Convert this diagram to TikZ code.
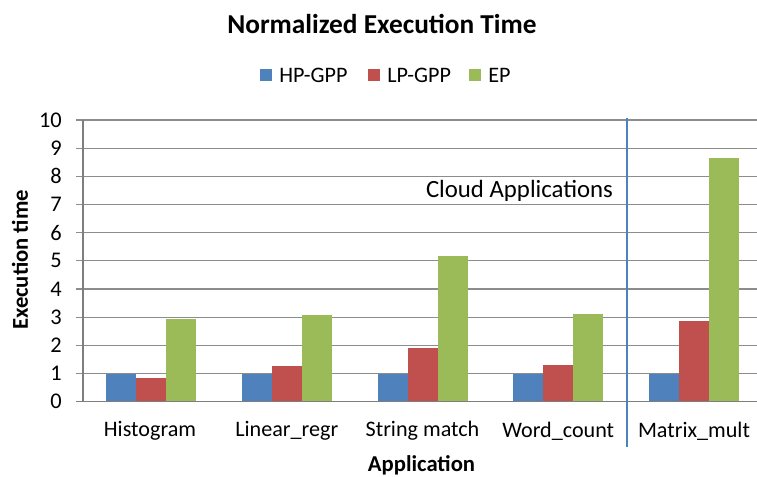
\documentclass[tikz,border=0pt]{standalone}
\usepackage{fontspec}
\setmainfont{Carlito}
\definecolor{hpc}{HTML}{4F81BD}
\definecolor{lpc}{HTML}{C0504D}
\definecolor{epc}{HTML}{9BBB59}
\definecolor{gridc}{HTML}{8C8C8C}
\begin{document}
\begin{tikzpicture}[x=0.75pt,y=-0.75pt,
  gridline/.style={draw=gridc, line width=0.9pt},
  axisline/.style={draw=gridc!90!black, line width=1pt},
  lbl/.style={font=\fontsize{16.6}{19}\selectfont, inner sep=0pt},
  ticklbl/.style={font=\fontsize{16.8}{19}\selectfont, inner sep=0pt, anchor=east},
  boldlbl/.style={font=\fontsize{17}{19}\selectfont\bfseries, inner sep=0pt},
  titlelbl/.style={font=\fontsize{20.5}{24}\selectfont\bfseries, inner sep=0pt},
  swatch/.style={inner sep=0pt, minimum size=9pt}]
\useasboundingbox (0,0) rectangle (757,477);
\fill[white] (0,0) rectangle (757,477);
% gridlines and ticks
\foreach \v in {1,...,10} {
  \draw[gridline] (76,{401.7-28.17*\v}) -- (757,{401.7-28.17*\v});
}
\foreach \v in {0,...,10} {
  \node[ticklbl] (t\v) at (62,{401.7-28.17*\v}) {\v};
}
% bars
\foreach \i/\a/\b/\c in {0/1/0.84/2.94, 1/1/1.27/3.08, 2/1/1.92/5.17, 3/1/1.31/3.12, 4/1/2.86/8.64} {
  \pgfmathsetmacro\xx{106+135.75*\i}
  \fill[hpc] (\xx,401.7) rectangle ++(30,{-28.17*\a});
  \fill[lpc] ({\xx+30},401.7) rectangle ++(30,{-28.17*\b});
  \fill[epc] ({\xx+60},401.7) rectangle ++(30,{-28.17*\c});
}
% axes
\draw[axisline] (83,120) -- (83,401.7);
\draw[axisline] (76,401.7) -- (757,401.7);
% separator
\draw[hpc, line width=1.2pt] (627,118) -- (627,447);
% category labels
\node[lbl] (c0) at (150,431) {Histogram};
\node[lbl] (c1) at (286.75,431) {Linear\_regr};
\node[lbl] (c2) at (422.5,431) {String match};
\node[lbl] (c3) at (558.25,431) {Word\_count};
\node[lbl] (c4) at (694,431) {Matrix\_mult};
\node[boldlbl] (xlab) at (421.5,465) {Application};
\node[boldlbl, rotate=90] (ylab) at (20,260) {Execution time};
\node[font=\fontsize{18.6}{21}\selectfont, inner sep=0pt] (cloud) at (519.5,191) {Cloud Applications};
% title
\node[titlelbl] (title) at (382,24) {Normalized Execution Time};
% legend
\node[swatch, fill=hpc] (s1) at (266,75) {};
\node[lbl, anchor=west] (l1) at (279,75) {HP-GPP};
\node[swatch, fill=lpc] (s2) at (374,75) {};
\node[lbl, anchor=west] (l2) at (387,75) {LP-GPP};
\node[swatch, fill=epc] (s3) at (475,75) {};
\node[lbl, anchor=west] (l3) at (488,75) {EP};
\end{tikzpicture}
\end{document}
